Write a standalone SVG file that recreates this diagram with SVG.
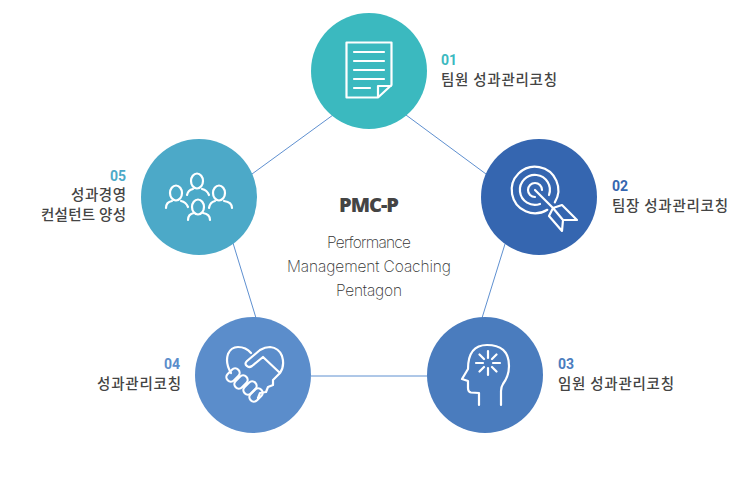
<svg xmlns="http://www.w3.org/2000/svg" width="751" height="488" viewBox="0 0 751 488">
<style>
.num{font-family:"Roboto","Noto Sans",sans-serif;font-weight:700;font-size:14px}
.lbl{font-family:"Noto Sans CJK KR",sans-serif;font-weight:500;font-size:14.5px;fill:#444}
.ic{fill:none;stroke:#fff;stroke-width:2.2;stroke-linecap:round;stroke-linejoin:round}
.sub{font-family:"Inter","Lato",sans-serif;font-weight:200;font-size:15.5px;fill:#333;text-anchor:middle}
.end{text-anchor:end}
</style>
<rect width="751" height="488" fill="#fff"/>
<g id="connectors" stroke="#5f90d0" stroke-width="1" fill="none">
<path d="M333 115L252 174M406 115L486 174M505 244L482 318M427 376H311M233 243L256 318"/>
</g>
<g id="node-01">
<circle cx="369" cy="71" r="58" fill="#3bb9bf"/>
<path class="ic" d="M346.500 42.500H391.500V85L378 97.500H346.500ZM378 97.500V86H391M354 52H384M354 61H384M354 70H384M354 79H384M354 88H370" stroke-linecap="butt"/>
<text class="num" x="441" y="65" fill="#3bb9bf">01</text>
<text class="lbl" x="441" y="85" textLength="116">팀원 성과관리코칭</text>
</g>
<g id="node-02">
<circle cx="539" cy="197" r="58" fill="#3566b0"/>
<path class="ic" d="M547.300 209.800A23.300 23.300 0 1 1 554.800 202.300M540 204A15 15 0 1 1 549 195M535 197A7 7 0 1 1 542 190M535 190L553 208M553 208L562 205L577 220L563 220L562 231L549 216ZM553 208L563 220"/>
<text class="num" x="612" y="191" fill="#3566b0">02</text>
<text class="lbl" x="612" y="211" textLength="116">팀장 성과관리코칭</text>
</g>
<g id="node-03">
<circle cx="485" cy="375" r="58" fill="#4a7cbe"/>
<path class="ic" d="M479 405V393L471 392.500Q468 392 468 388V381L462 379L468 369Q468 345 487 345Q509 345 509 366Q509 376 503 384Q501 387 501 391V405M488 351V358M488 368V375M476 363H483M493 363H500M479.500 354.500L484 359M492 367L496.500 371.500M496.500 354.500L492 359M484 367L479.500 371.500"/>
<text class="num" x="558" y="369" fill="#4a7cbe">03</text>
<text class="lbl" x="558" y="389" textLength="116">임원 성과관리코칭</text>
</g>
<g id="node-04">
<circle cx="253" cy="375" r="58" fill="#5b8dcb"/>
<path class="ic" d="M231 373Q225 363 228 354Q231 347 238 347Q246 347 251 353M260 350Q265 347 270 347Q279 348 282 356Q285 366 280 373L273 380V385L268 387L266 392L260 393L258 398M260 350L247 361Q244 364 247 366Q249 368 252 366L263 357L280 373"/>
<g class="ic"><rect x="225.500" y="370.500" width="15" height="9" rx="4.500" transform="rotate(-45 233 375)"/><rect x="233.500" y="377.500" width="15" height="9" rx="4.500" transform="rotate(-45 241 382)"/><rect x="242.500" y="383.500" width="15" height="9" rx="4.500" transform="rotate(-45 250 388)"/><rect x="248.500" y="390.500" width="15" height="9" rx="4.500" transform="rotate(-45 256 395)"/></g>
<text class="num end" x="180" y="369" fill="#5b8dcb">04</text>
<text class="lbl end" x="181" y="389" textLength="84">성과관리코칭</text>
</g>
<g id="node-05">
<circle cx="199" cy="197" r="58" fill="#4ca9c8"/>
<g class="ic">
<ellipse cx="197" cy="181" rx="6" ry="7.500"/><path d="M187 195Q188 190 193 189M202 189Q207 190 209 195"/>
<ellipse cx="176" cy="193" rx="6" ry="7.500"/><path d="M166 208Q166 202 172 201M181 201Q186 202 188 207"/>
<ellipse cx="219" cy="193" rx="6" ry="7.500"/><path d="M209 208Q210 202 215 201M224 201Q232 202 232 208"/>
<ellipse cx="198" cy="207" rx="6" ry="7.500"/><path d="M188 220Q188 214 194 213M203 213Q210 214 210 220"/>
</g>
<text class="num end" x="126" y="181" fill="#4ca9c8">05</text>
<text class="lbl end" x="126" y="200" textLength="55">성과경영</text>
<text class="lbl end" x="126" y="220" textLength="85">컨설턴트 양성</text>
</g>
<g id="center">
<text x="369" y="212" text-anchor="middle" font-family="Open Sans,sans-serif" font-weight="800" font-size="20" fill="#444" textLength="60">PMC-P</text>
<text class="sub" x="369" y="248" textLength="84">Performance</text>
<text class="sub" x="369" y="272" textLength="164">Management Coaching</text>
<text class="sub" x="369" y="296" textLength="66">Pentagon</text>
</g>
</svg>
